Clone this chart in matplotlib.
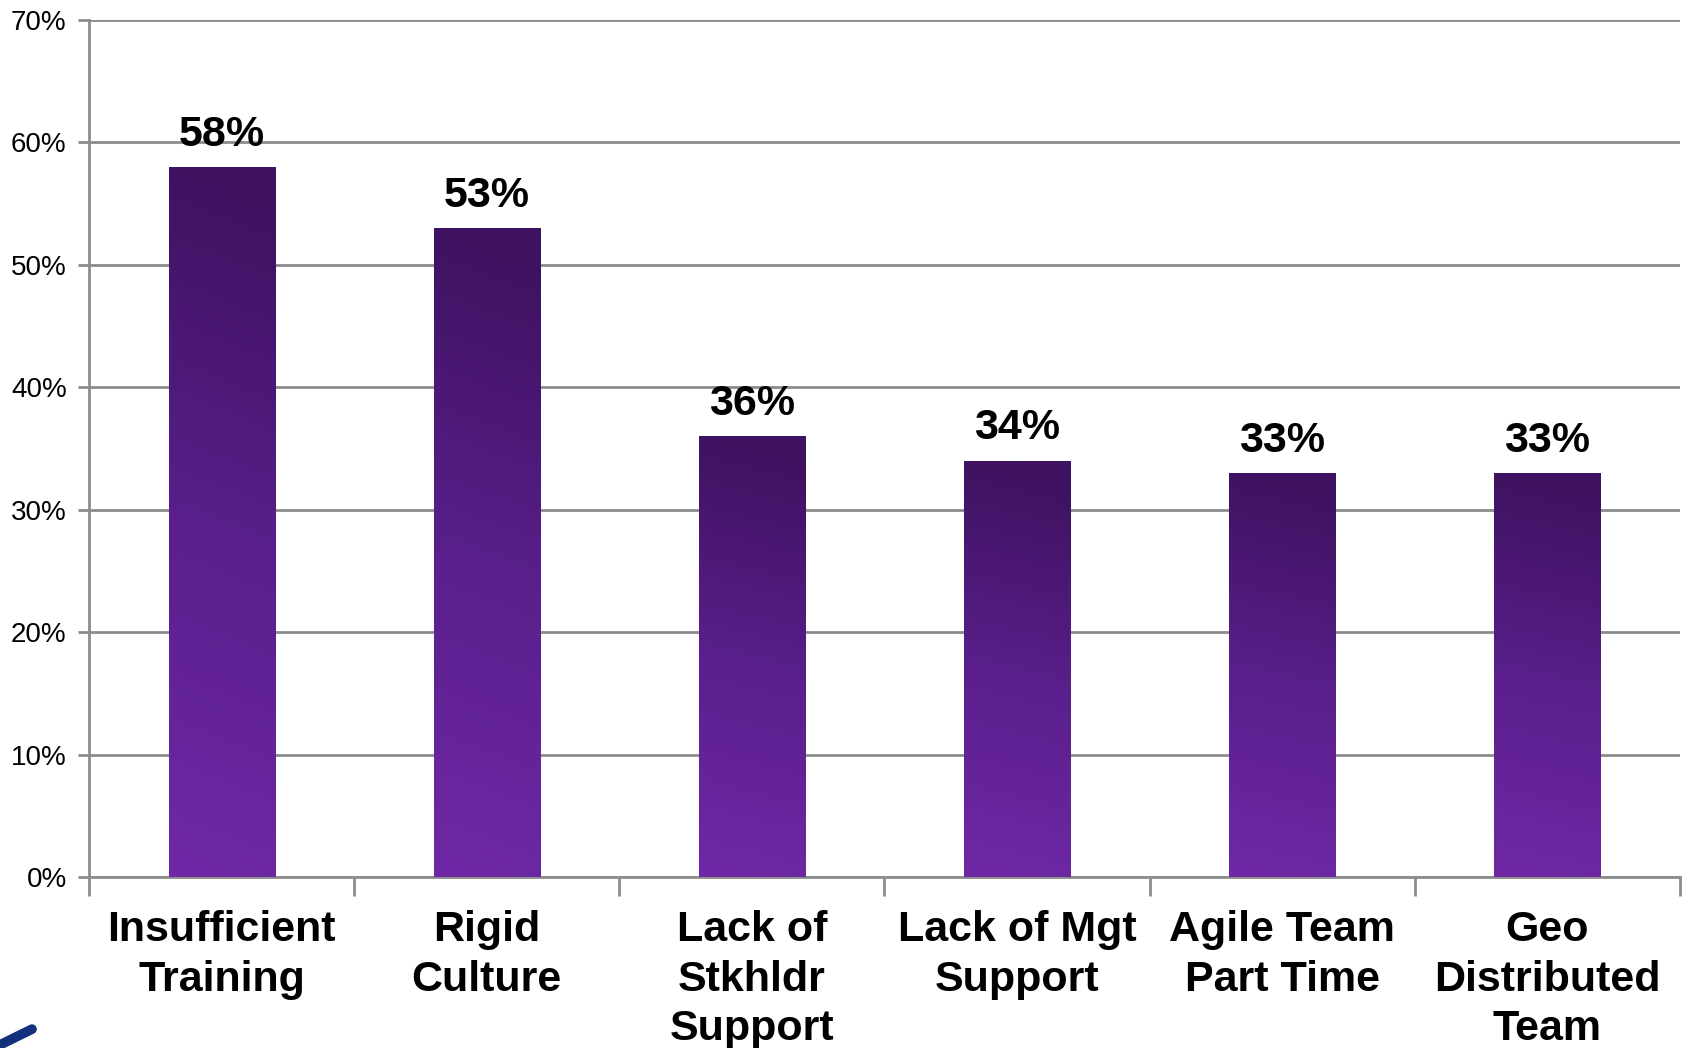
import matplotlib.pyplot as plt
import numpy as np
from matplotlib.colors import LinearSegmentedColormap
from matplotlib.ticker import MultipleLocator, FuncFormatter

categories = ['Insufficient\nTraining', 'Rigid\nCulture', 'Lack of\nStkhldr\nSupport',
              'Lack of Mgt\nSupport', 'Agile Team\nPart Time', 'Geo\nDistributed\nTeam']
values = [58, 53, 36, 34, 33, 33]

plt.rcParams['font.family'] = ['Liberation Sans', 'DejaVu Sans']

fig = plt.figure(figsize=(16.85, 10.48), dpi=100)
ax = fig.add_axes([0.0528, 0.1632, 0.9442, 0.8178])

x = np.arange(len(values))
width = 0.40
bars = ax.bar(x, values, width=width, color='none', edgecolor='none', zorder=3)

# vertical purple gradient, dark at the top of each bar
cmap = LinearSegmentedColormap.from_list('purp', ['#6f28a6', '#5a1f8c', '#3e1260'])
grad = np.linspace(0, 1, 256).reshape(-1, 1)
shade = np.linspace(0, 0.06, 32).reshape(1, -1)
for b, v in zip(bars, values):
    x0 = b.get_x()
    img = ax.imshow(np.clip(grad + shade, 0, 1), cmap=cmap, vmin=0, vmax=1,
                    extent=[x0, x0 + width, 0, v], origin='lower',
                    aspect='auto', zorder=3, interpolation='bilinear')
    img.set_clip_path(b)
    ax.text(b.get_x() + width / 2, v + 1.0, f'{v}%', ha='center', va='bottom',
            fontsize=31, fontweight='bold', zorder=4)

ax.set_xlim(-0.5, len(values) - 0.5)
ax.set_ylim(0, 70)
ax.yaxis.set_major_locator(MultipleLocator(10))
ax.yaxis.set_major_formatter(FuncFormatter(lambda v, p: f'{v:.0f}%'))
ax.grid(axis='y', color='#8c8c8c', linewidth=2, zorder=0)
ax.set_axisbelow(True)

ax.set_xticks(x)
ax.set_xticklabels(categories, fontsize=31, fontweight='bold', linespacing=1.3)
ax.set_xticks(np.arange(len(values) + 1) - 0.5, minor=True)
ax.tick_params(axis='x', which='major', length=0, pad=24)
ax.tick_params(axis='x', which='minor', length=14, width=2, color='#8c8c8c')
ax.tick_params(axis='y', length=8, width=2, color='#8c8c8c', labelsize=20, pad=8)

for side in ['top', 'right']:
    ax.spines[side].set_visible(False)
for side in ['left', 'bottom']:
    ax.spines[side].set_color('#8c8c8c')
    ax.spines[side].set_linewidth(2)

# corner of the logo swoosh
fig.add_artist(plt.Line2D([0.0, 0.019], [0.003, 0.018], transform=fig.transFigure,
                          color='#13307a', linewidth=7, solid_capstyle='round'))

fig.savefig('out.png', dpi=100, facecolor='white')
